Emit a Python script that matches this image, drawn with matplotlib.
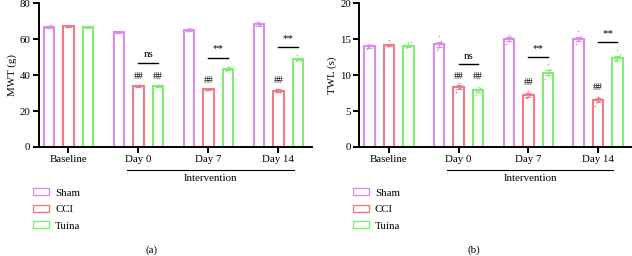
import numpy as np
import matplotlib
matplotlib.use("Agg")
import matplotlib.pyplot as plt
from matplotlib.patches import Patch

plt.rcParams['font.family'] = ['Liberation Serif', 'DejaVu Serif']

# Data
timepoints = ["Baseline", "Day 0", "Day 7", "Day 14"]
groups = ["Sham", "CCI", "Tuina"]
colors = ["#DA8CEE", "#EE7A8A", "#80EC72"]

mwt_sham = [67.0, 63.8, 65.0, 68.3]
mwt_cci = [67.2, 33.9, 32.0, 31.3]
mwt_tuina = [66.8, 34.0, 43.6, 48.8]
mwt_sem = [[0.5, 0.5, 0.6, 0.7], [0.4, 0.4, 0.4, 0.7], [0.4, 0.5, 0.6, 0.6]]

twl_sham = [14.0, 14.3, 15.0, 15.0]
twl_cci = [14.2, 8.3, 7.2, 6.5]
twl_tuina = [14.0, 7.9, 10.3, 12.4]
twl_sem = [[0.2, 0.35, 0.25, 0.3], [0.15, 0.3, 0.25, 0.3], [0.15, 0.2, 0.35, 0.3]]

# individual animals
mwt_dots = [
    [[66.5, 67.5, 68.0, 67.0, 66.8, 67.3], [67.0, 67.8, 67.5, 66.8, 67.2, 67.4], [66.5, 67.2, 67.0, 66.8, 67.3, 66.6]],
    [[63.5, 64.5, 64.0, 63.6, 64.2, 63.8], [33.5, 34.3, 34.0, 33.8, 34.4, 33.7], [33.6, 34.5, 34.2, 33.8, 34.6, 33.5]],
    [[64.5, 66.0, 65.5, 64.8, 65.8, 64.6], [31.8, 32.3, 32.0, 31.9, 32.4, 31.7], [42.5, 44.5, 43.8, 43.0, 44.8, 43.2]],
    [[67.5, 69.5, 68.5, 69.8, 67.8, 68.2], [30.5, 32.5, 31.0, 32.2, 30.6, 31.0], [48.0, 49.8, 48.5, 51.0, 48.4, 48.8]],
]
twl_dots = [
    [[13.7, 14.4, 14.1, 13.9, 14.2, 13.8], [14.0, 14.9, 14.2, 14.1, 14.3, 14.0], [13.8, 14.5, 14.6, 14.0, 13.9, 14.5]],
    [[13.5, 15.5, 14.4, 13.8, 14.8, 14.2], [7.6, 8.9, 8.5, 8.0, 8.2, 8.6], [7.3, 8.3, 8.0, 7.6, 8.2, 7.9]],
    [[14.3, 15.6, 15.2, 14.8, 15.3, 14.7], [6.8, 7.8, 7.3, 7.0, 7.5, 7.1], [9.4, 11.5, 10.8, 10.0, 10.5, 9.8]],
    [[14.4, 16.2, 15.4, 14.7, 15.1, 14.9], [5.7, 6.9, 6.6, 6.2, 6.8, 6.4], [11.9, 13.5, 12.9, 12.0, 12.7, 12.2]],
]

# significance marks: (timepoint, text, bar_y, text_y) ; hash marks: (timepoint, group, y)
mwt_sig = [(1, "ns", 47.0, 49.0), (2, "**", 49.8, 52.2), (3, "**", 55.7, 58.1)]
mwt_hash = [(1, 1, 36.5), (1, 2, 36.5), (2, 1, 34.5), (3, 1, 34.5)]
twl_sig = [(1, "ns", 11.6, 12.0), (2, "**", 12.5, 13.1), (3, "**", 14.6, 15.2)]
twl_hash = [(1, 1, 9.2), (1, 2, 9.2), (2, 1, 8.4), (3, 1, 7.7)]

pitch = 0.28
width = 0.15
jitter = [-0.035, 0.0, 0.035, -0.02, 0.02, 0.0]
x = np.arange(len(timepoints))
fs = 7.8


def draw_panel(ax, means, sems, dots, sig, hashes, ymax, ystep, ylabel):
    for g in range(3):
        pos = x + (g - 1) * pitch
        ax.bar(pos, means[g], width=width, facecolor="white", edgecolor=colors[g],
               linewidth=1.5, zorder=2)
        ax.errorbar(pos, means[g], yerr=sems[g], fmt="none", ecolor=colors[g],
                    elinewidth=0.8, capsize=2, capthick=0.8, zorder=3)
        for t in range(len(timepoints)):
            ax.scatter(pos[t] + np.array(jitter), dots[t][g], s=1.5, color=colors[g],
                       zorder=4, linewidths=0)
    for t, txt, by, ty in sig:
        ax.plot([t, t + pitch], [by, by], color="black", lw=1.0)
        ax.text(t + pitch / 2, ty, txt, ha="center", va="bottom", fontsize=fs)
    for t, g, hy in hashes:
        ax.text(t + (g - 1) * pitch, hy, "##", ha="center", va="bottom", fontsize=fs - 0.8)

    ax.set_xlim(-0.426, 3.48)
    ax.set_ylim(0, ymax)
    ax.set_yticks(np.arange(0, ymax + 0.1, ystep))
    ax.set_xticks(x)
    ax.set_xticklabels(timepoints, fontsize=fs)
    ax.tick_params(axis="y", labelsize=fs, width=1.4, length=4, pad=2)
    ax.tick_params(axis="x", width=1.4, length=4, pad=2)
    ax.set_ylabel(ylabel, fontsize=fs, labelpad=2)
    for s in ["top", "right"]:
        ax.spines[s].set_visible(False)
    for s in ["left", "bottom"]:
        ax.spines[s].set_linewidth(1.4)

    trans = ax.get_xaxis_transform()
    ax.plot([0.836, 3.22], [-0.16, -0.16], color="black", lw=0.8, transform=trans,
            clip_on=False)
    ax.text(2.03, -0.19, "Intervention", ha="center", va="top", fontsize=fs,
            transform=trans)


fig = plt.figure(figsize=(6.32, 2.56), dpi=100)
ax1 = fig.add_axes([0.0612, 0.426, 0.4326, 0.561])
ax2 = fig.add_axes([0.5685, 0.426, 0.4305, 0.561])

draw_panel(ax1, [mwt_sham, mwt_cci, mwt_tuina], mwt_sem, mwt_dots, mwt_sig, mwt_hash,
           80, 20, "MWT (g)")
draw_panel(ax2, [twl_sham, twl_cci, twl_tuina], twl_sem, twl_dots, twl_sig, twl_hash,
           20, 5, "TWL (s)")

handles = [Patch(facecolor="white", edgecolor=c, linewidth=1.0) for c in colors]
for xa in [0.052, 0.558]:
    fig.legend(handles, groups, loc="upper left", bbox_to_anchor=(xa, 0.265),
               frameon=False, fontsize=fs, handlelength=1.5, handleheight=0.65,
               handletextpad=0.55, labelspacing=0.65, borderaxespad=0, borderpad=0)

fig.text(152 / 632, 1 - 250 / 256, "(a)", ha="center", va="center", fontsize=fs)
fig.text(474 / 632, 1 - 250 / 256, "(b)", ha="center", va="center", fontsize=fs)

fig.savefig("out.png", dpi=100)
